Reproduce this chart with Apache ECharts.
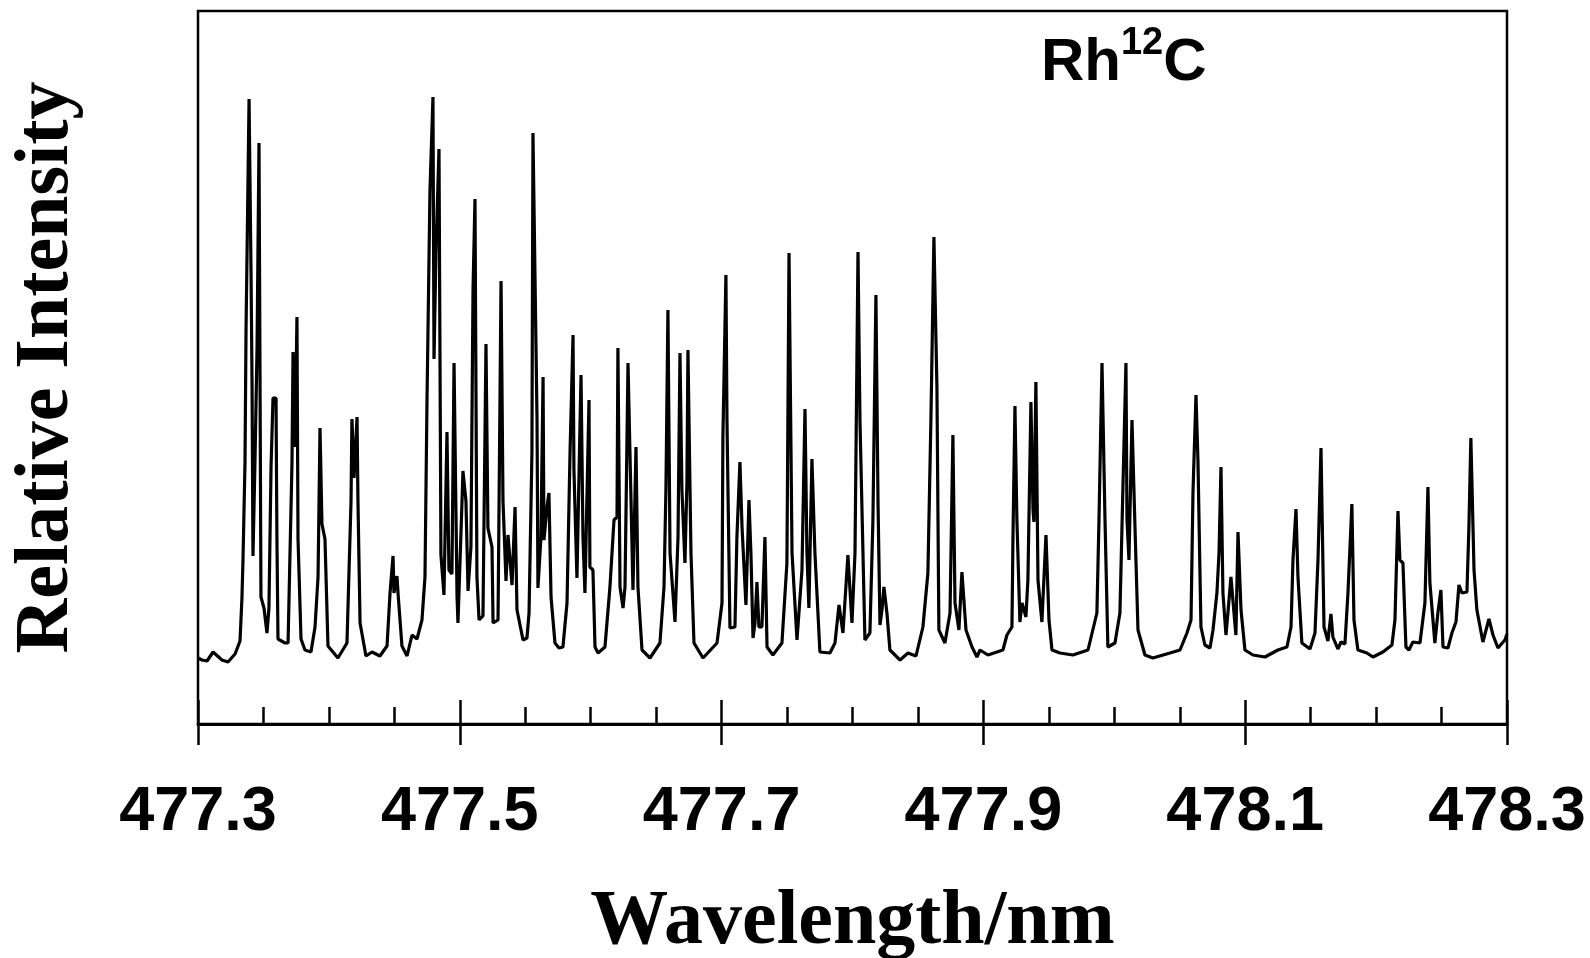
<!DOCTYPE html>
<html><head><meta charset="utf-8">
<style>html,body{margin:0;padding:0;background:#fff}#c{width:1590px;height:958px}</style>
<script src="https://cdn.jsdelivr.net/npm/echarts@6/dist/echarts.min.js"></script>
</head><body><div id="c"></div>
<script>
const wavelengthStart = 477.3;
const majorTicks = [477.3, 477.5, 477.7, 477.9, 478.1, 478.3];
const minorTicks = [477.35,477.4,477.45,477.55,477.6,477.65,477.75,477.8,477.85,477.95,478.0,478.05,478.15,478.2,478.25];
// picometres above 477.3 nm
const offsetPm = [
0,3.1,6.9,11.5,18.3,22.9,28.3,32.1,33.6,34.4,35.9,36.7,37.4,39.0,40.5,41.3,42.0,43.5,45.1,46.6,47.4,48.1,50.4,52.7,54.2,55.8,57.3,59.6,60.3,61.1,
66.5,68.8,71.8,72.6,74.1,75.6,76.4,78.7,81.7,86.3,89.4,91.7,93.2,94.7,97.0,99.3,106.9,113.8,116.9,117.6,119.2,121.5,122.2,123.8,128.3,132.9,139.0,144.4,146.7,149.0,
149.7,152.0,152.8,155.8,159.7,163.5,167.3,171.1,173.4,174.9,177.2,179.5,180.3,181.8,184.1,185.6,187.9,190.2,191.7,194.0,195.6,197.9,198.6,201.7,202.4,204.7,206.3,208.5,210.1,211.6,
213.1,214.7,217.7,220.0,221.5,224.6,225.4,229.2,231.5,233.0,235.3,236.8,239.9,242.2,243.7,248.3,251.3,252.9,255.1,255.9,259.0,259.7,262.0,263.6,264.3,266.6,268.1,269.7,272.7,275.8,
278.8,281.9,284.2,286.5,287.2,289.5,290.3,292.6,294.1,295.6,298.7,299.4,301.7,303.3,305.6,310.9,314.7,317.8,320.1,320.8,322.4,324.7,326.2,328.5,330.0,332.3,334.6,336.1,339.2,345.3,
352.9,356.0,357.5,359.0,360.6,364.4,366.7,368.2,369.7,372.0,373.5,374.3,376.6,378.9,385.8,396.5,400.3,401.0,403.3,404.1,406.4,410.2,411.7,414.0,415.6,418.6,420.9,422.4,424.0,425.5,
427.0,428.5,430.8,433.1,434.7,439.2,446.1,449.9,451.5,453.8,457.6,461.4,463.7,465.2,466.7,469.0,471.3,475.1,482.8,486.6,489.7,492.7,496.5,499.6,501.9,504.2,505.7,509.5,513.3,515.6,
517.9,519.5,521.0,522.5,524.0,526.3,528.6,536.3,542.4,548.5,553.8,557.6,559.9,562.2,564.5,566.0,570.6,574.5,576.7,578.3,581.3,583.6,586.7,591.3,595.1,597.4,603.5,614.9,618.0,621.8,
622.6,624.1,625.6,627.9,629.5,632.5,634.0,636.3,637.9,638.6,640.1,641.7,644.7,647.8,650.1,652.4,658.5,668.4,679.9,686.7,688.3,690.6,692.9,695.1,700.5,704.3,706.6,708.9,709.7,711.2,
713.5,715.8,718.1,723.4,729.5,742.5,750.2,755.5,758.6,760.1,762.4,763.9,766.2,769.2,773.1,775.4,778.4,780.0,781.5,783.0,785.3,786.8,789.1,790.6,792.9,794.5,796.8,799.8,805.9,815.1,
825.0,831.9,835.0,836.5,838.8,840.3,843.3,849.5,853.3,855.6,857.9,859.4,860.2,863.2,865.5,867.0,870.8,873.2,876.2,878.5,881.5,883.1,886.1,893.0,897.6,905.2,912.1,914.4,916.7,918.2,
920.5,922.8,925.1,928.1,933.5,937.3,939.6,941.1,944.9,947.2,949.5,951.1,954.9,957.9,961.0,963.3,965.6,969.4,970.9,972.4,974.8,977.0,981.6,986.2,989.3,993.1,998.4,1000
];
// relative intensity, arbitrary units
const intensity = [
66,64,63,72,64,62,70,83,127,166,261,395,464,625,453,338,168,261,376,581,338,127,116,91,116,257,326,326,185,85,
81,81,261,372,277,407,185,85,74,72,97,147,296,200,185,78,66,81,223,305,246,307,223,101,68,72,68,78,131,168,
131,148,131,78,68,89,85,104,147,319,533,627,365,472,575,169,129,292,154,150,361,127,101,223,253,223,133,177,434,525,
147,104,108,380,196,177,101,104,443,223,143,189,139,217,114,84,86,111,271,591,304,136,187,347,184,217,231,127,81,76,
77,121,271,389,254,146,145,349,187,131,324,157,154,77,71,77,137,204,207,376,137,116,137,361,271,134,277,137,74,66,
81,137,237,414,171,102,187,371,234,161,241,374,171,81,66,81,121,287,449,304,96,97,187,262,197,119,224,171,86,101,
142,97,97,187,77,69,81,161,471,171,84,154,315,171,116,265,171,72,71,81,119,91,169,101,171,472,304,84,91,204,
429,221,99,114,137,111,74,64,71,68,97,151,304,487,337,94,81,111,289,121,94,152,94,77,67,74,69,74,89,97,
187,318,204,102,121,107,144,322,214,202,342,144,102,189,104,74,71,69,74,111,204,361,204,77,81,111,237,361,204,164,
304,197,94,69,66,71,74,91,104,231,329,264,97,79,76,94,131,171,257,131,89,111,147,124,89,192,114,74,69,67,
74,77,97,164,215,147,81,75,91,164,276,276,97,83,110,87,75,82,80,131,220,104,74,71,67,72,79,104,213,164,
161,77,74,82,81,121,237,141,81,111,134,77,76,91,102,139,131,132,197,286,154,114,82,105,89,76,84,90
];
const spectrum = offsetPm.map((p, i) => [+(wavelengthStart + p / 1000).toFixed(4), intensity[i]]);
const sans = '"Liberation Sans", Arial, sans-serif';
const serif = '"Liberation Serif", "Times New Roman", serif';
const axisBase = {type:'value', min:477.3, max:478.3, position:'bottom', splitLine:{show:false},
  axisLine:{show:true, onZero:false, lineStyle:{color:'#000', width:2.5}}};
const chart = echarts.init(document.getElementById('c'), null, {renderer:'canvas'});
chart.setOption({
  animation:false,
  backgroundColor:'#fff',
  grid:{left:198, right:83, top:11, bottom:234, outerBoundsMode:'none', containLabel:false, show:true, borderColor:'#000', borderWidth:2.5, backgroundColor:'transparent'},
  xAxis:[
    Object.assign({}, axisBase, {
      name:'Wavelength/nm', nameLocation:'middle', nameGap:160,
      nameTextStyle:{fontFamily:serif, fontWeight:'bold', fontSize:78, color:'#000'},
      axisTick:{show:true, customValues:majorTicks, length:21, inside:false, lineStyle:{color:'#000', width:2.5}},
      axisLabel:{show:true, customValues:majorTicks, margin:57, formatter:v=>v.toFixed(1), hideOverlap:false, showMinLabel:true, showMaxLabel:true,
        fontFamily:sans, fontWeight:'bold', fontSize:63, color:'#000'}
    }),
    Object.assign({}, axisBase, {
      axisTick:{show:true, customValues:majorTicks, length:24, inside:true, lineStyle:{color:'#000', width:2.5}},
      axisLabel:{show:false}
    }),
    Object.assign({}, axisBase, {
      axisTick:{show:true, customValues:minorTicks, length:17, inside:true, lineStyle:{color:'#000', width:2.5}},
      axisLabel:{show:false}
    })
  ],
  yAxis:{type:'value', min:0, max:713, name:'Relative Intensity', nameLocation:'middle', nameGap:113,
    nameTextStyle:{fontFamily:serif, fontWeight:'bold', fontSize:76, color:'#000'},
    axisLine:{show:false}, axisTick:{show:false}, axisLabel:{show:false}, splitLine:{show:false}},
  title:{text:'{a|Rh}{b|12}{a|C}', left:1036, top:20,
    textStyle:{rich:{
      a:{fontFamily:sans, fontWeight:'bold', fontSize:60, lineHeight:68, color:'#000', verticalAlign:'bottom'},
      b:{fontFamily:sans, fontWeight:'bold', fontSize:38, lineHeight:40, color:'#000', verticalAlign:'top'}
    }}},
  series:[{type:'line', xAxisIndex:0, data:spectrum, showSymbol:false, smooth:false, sampling:'none',
    lineStyle:{color:'#000', width:3.2, join:'bevel'}, emphasis:{disabled:true}, clip:true}]
});
</script></body></html>
